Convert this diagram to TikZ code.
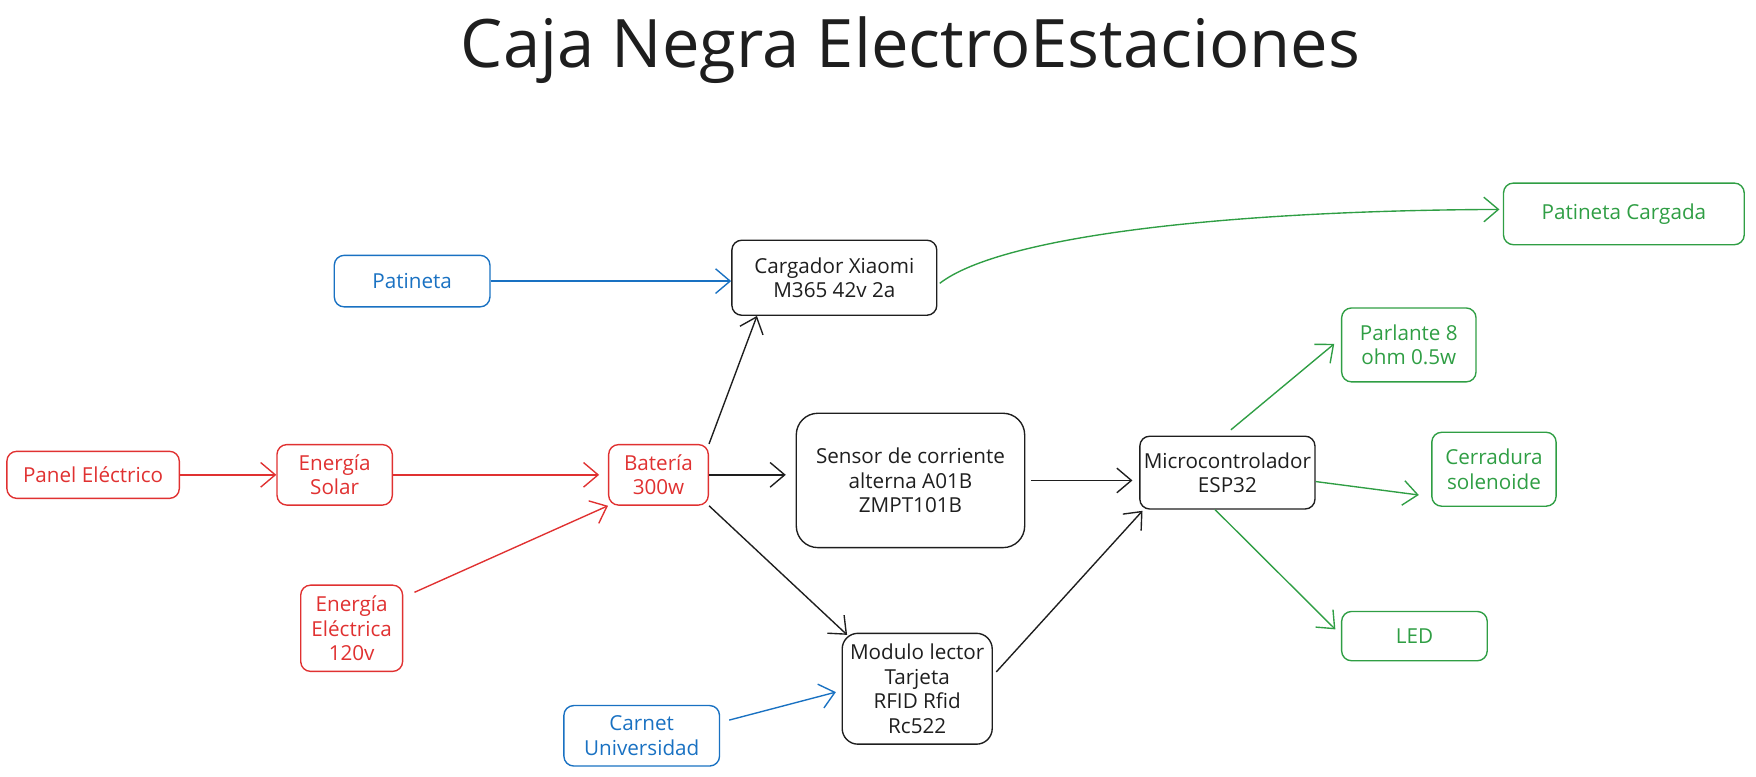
\documentclass[tikz,border=0pt]{standalone}
\usepackage{fontspec}
\setmainfont{Open Sans}
\usepackage{xcolor}
\usepackage{tikz}
\usetikzlibrary{arrows.meta, positioning}

\definecolor{exred}{HTML}{E03131}
\definecolor{exblue}{HTML}{1971C2}
\definecolor{exgreen}{HTML}{2F9E44}
\definecolor{exblack}{HTML}{1E1E1E}

\begin{document}
\begin{tikzpicture}[
    x=0.02cm, y=-0.02cm,
    box/.style={rectangle, rounded corners=5pt, draw=exblack, text=exblack, line width=0.7pt, align=center, inner sep=2pt, font=\fontsize{10.5}{12.5}\selectfont},
    inbox/.style={box, draw=exblue, text=exblue},
    powerbox/.style={box, draw=exred, text=exred},
    outbox/.style={box, draw=exgreen, text=exgreen},
    line/.style={draw=exblack, line width=0.7pt, -{Straight Barb[length=2.6mm, width=4.4mm]}},
    inline/.style={line, draw=exblue},
    powerline/.style={line, draw=exred},
    outline/.style={line, draw=exgreen}
]
    \useasboundingbox (0,0) rectangle (1568,693);
    \node[text=exblack, font=\fontsize{34}{40}\selectfont] (title) at (813,45) {Caja Negra ElectroEstaciones};

    % Power side
    \node[powerbox, minimum width=1.78cm, minimum height=1.08cm] (bateria) at (588,424) {Batería\\300w};
    \node[powerbox, minimum width=2.06cm, minimum height=1.08cm, left=3.84cm of bateria] (solar) {Energía\\Solar};
    \node[powerbox, minimum width=3.08cm, minimum height=0.84cm, left=1.72cm of solar] (panel) {Panel Eléctrico};
    \node[powerbox, minimum width=1.82cm, minimum height=1.54cm] (electrica) at (314,561) {Energía\\Eléctrica\\120v};

    % Inputs
    \node[inbox, minimum width=2.78cm, minimum height=0.92cm] (patineta) at (368,251) {Patineta};
    \node[inbox, minimum width=2.78cm, minimum height=1.08cm] (carnet) at (573,657) {Carnet\\Universidad};

    % Processing
    \node[box, minimum width=3.66cm, minimum height=1.34cm] (cargador) at (745,248) {Cargador Xiaomi\\M365 42v 2a};
    \node[box, rounded corners=11pt, minimum width=4.08cm, minimum height=2.4cm] (sensor) at (813,429) {Sensor de corriente\\alterna A01B\\ZMPT101B};
    \node[box, rounded corners=8pt, minimum width=2.68cm, minimum height=1.98cm] (modulo) at (819,615) {Modulo lector\\Tarjeta\\RFID Rfid\\Rc522};
    \node[box, minimum width=3.08cm, minimum height=1.3cm] (micro) at (1096,422) {Microcontrolador\\ESP32};

    % Outputs
    \node[outbox, minimum width=4.3cm, minimum height=1.1cm] (cargada) at (1450,191) {Patineta Cargada};
    \node[outbox, minimum width=2.4cm, minimum height=1.32cm] (parlante) at (1258,308) {Parlante 8\\ohm 0.5w};
    \node[outbox, minimum width=2.22cm, minimum height=1.32cm] (cerradura) at (1334,419) {Cerradura\\solenoide};
    \node[outbox, minimum width=2.6cm, minimum height=0.88cm] (led) at (1263,568) {LED};

    % Connectors
    \draw[powerline] (panel) -- (solar);
    \draw[powerline, shorten >=4.5pt] (solar.east) -- (bateria.west);
    \draw[powerline] ([shift={(10,7)}]electrica.north east) -- (bateria.south west);
    \draw[inline] (patineta.east) -- (patineta.east -| cargador.west);
    \draw[inline] ([shift={(8,-14)}]carnet.east) -- ([shift={(-5,3)}]modulo.west);
    \draw[line] (bateria.north east) -- ([xshift=0.46cm]cargador.south west);
    \draw[line, shorten >=5pt] (bateria.east) -- (bateria.east -| sensor.west);
    \draw[line] (bateria.south east) -- ([shift={(5,2)}]modulo.north west);
    \draw[line, shorten <=2.8pt, shorten >=3.4pt] (sensor.east) -- (sensor.east -| micro.west);
    \draw[line] ([shift={(3,-15)}]modulo.east) -- ([shift={(3,1)}]micro.south west);
    \draw[outline] ([shift={(2,5)}]cargador.east) .. controls (895,210) and (1100,188) .. ([shift={(-3,-4)}]cargada.west);
    \draw[outline, shorten <=4.5pt] ([xshift=-0.06cm]micro.north) -- ([shift={(-6,-1)}]parlante.west);
    \draw[outline] ([yshift=-0.16cm]micro.east) -- ([shift={(-11,23)}]cerradura.west);
    \draw[outline] ([xshift=-0.22cm]micro.south) -- ([shift={(-5,-6)}]led.west);
\end{tikzpicture}
\end{document}
